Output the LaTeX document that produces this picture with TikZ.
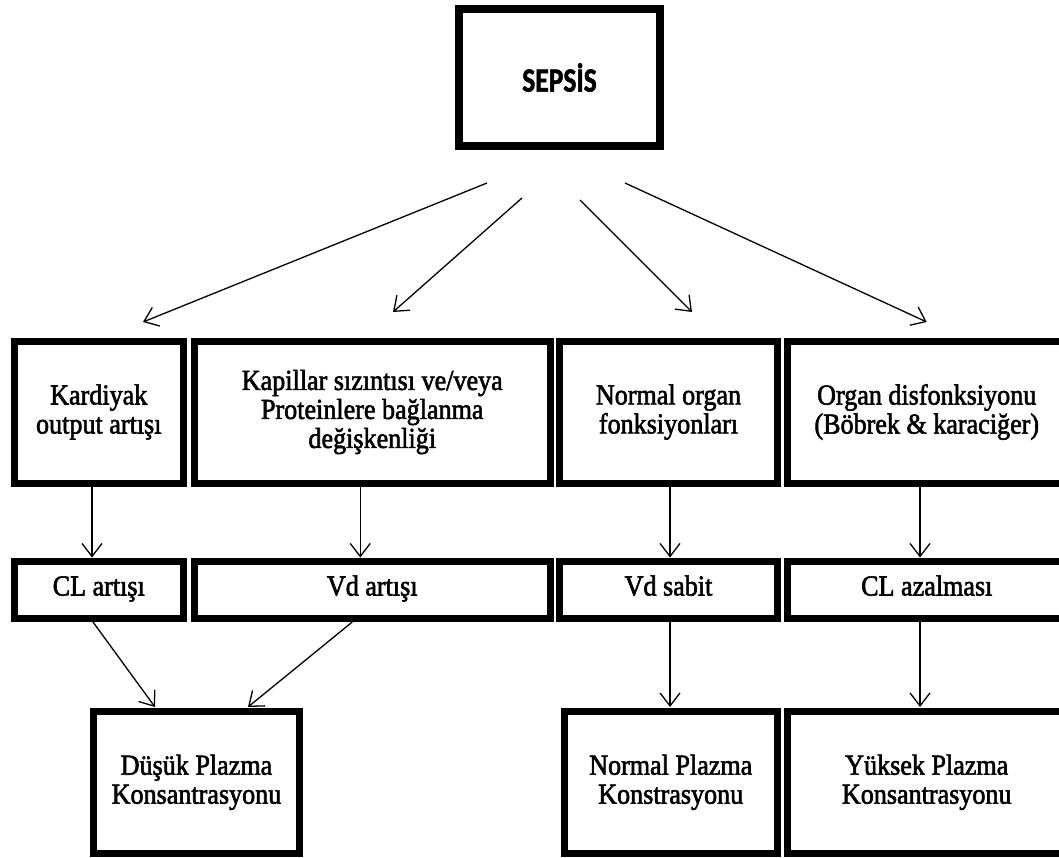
\documentclass[tikz,border=0pt]{standalone}
\usepackage{fontspec}
\setmainfont{Liberation Serif}[FakeStretch=0.9, FakeBold=2]
\newfontfamily\headfont{Carlito}[FakeStretch=0.81, FakeBold=1.5]
\usetikzlibrary{arrows.meta,calc}

\begin{document}
\begin{tikzpicture}[x=1pt, y=-1pt,
  every node/.style={rectangle, draw, line width=7pt, outer sep=0pt, inner sep=0pt, align=center, font=\fontsize{29}{29}\selectfont},
  oneline/.style={text height=19pt, text depth=7pt},
  flow/.style={line width=1.3pt, -{Straight Barb[length=13pt,width=20pt]}}]
  % \draw[help lines] (0,0) grid (1059,857);
  \useasboundingbox (0,0) rectangle (1059,857);
  \clip (0,0) rectangle (1059,857);

  \node (sepsis) at (559.5,77.5) [line width=8pt, minimum width=201pt, minimum height=137pt, font=\headfont\bfseries\fontsize{34}{34}\selectfont] {\raisebox{-2pt}{SEPSİS}};

  \node (cardiac) at (98.75,412) [minimum width=168.5pt, minimum height=142pt] {Kardiyak\\output artışı};
  \node (leak) at (372.25,412) [minimum width=355.5pt, minimum height=142pt] {Kapillar sızıntısı ve/veya\\Proteinlere bağlanma\\değişkenliği};
  \node (normorgan) at (668.5,412) [minimum width=218pt, minimum height=142pt] {Normal organ\\fonksiyonları};
  \node (dysfunction) at (926.75,412) [minimum width=278.5pt, minimum height=142pt] {Organ disfonksiyonu\\(Böbrek \& karaciğer)};

  \node (clup) at (98.75,589.5) [oneline, minimum width=168.5pt, minimum height=57pt] {CL artışı};
  \node (vdup) at (372.25,589.5) [oneline, minimum width=355.5pt, minimum height=57pt] {Vd artışı};
  \node (vdconst) at (668.5,589.5) [oneline, minimum width=218pt, minimum height=57pt] {Vd sabit};
  \node (cldown) at (926.75,589.5) [oneline, minimum width=278.5pt, minimum height=57pt] {CL azalması};

  \node (low) at (196.5,782.25) [minimum width=206pt, minimum height=141.5pt] {Düşük Plazma\\Konsantrasyonu};
  \node (normal) at (670.75,782.25) [minimum width=213.5pt, minimum height=141.5pt] {Normal Plazma\\Konstrasyonu};
  \node (high) at (926.75,782.25) [minimum width=278.5pt, minimum height=141.5pt] {Yüksek Plazma\\Konsantrasyonu};

  % sepsis fans out
  \draw[flow] ($(sepsis.south)+(-72.5,37)$) -- ($(cardiac.north)+(44.25,-19)$);
  \draw[flow] ($(sepsis.south)+(-37.5,52)$) -- ($(leak.north)+(20.75,-29)$);
  \draw[flow] ($(sepsis.south)+(20.5,54)$) -- ($(normorgan.north)+(23.5,-29)$);
  \draw[flow] ($(sepsis.south)+(65.5,37)$) -- ($(dysfunction.north)+(0,-19)$);

  \draw[flow] ($(cardiac.south)+(-6.75,0)$) -- ($(clup.north)+(-6.75,-3.5)$);
  \draw[flow] ($(leak.south)+(-12,0)$) -- ($(vdup.north)+(-12,-3.5)$);
  \draw[flow] ($(normorgan.south)+(1.5,0)$) -- ($(vdconst.north)+(1.5,-3.5)$);
  \draw[flow] ($(dysfunction.south)+(-6.75,0)$) -- ($(cldown.north)+(-6.75,-3.5)$);

  \draw[flow] ($(clup.south)+(-5.75,4)$) -- ($(low.north)+(-41.5,-4.5)$);
  \draw[flow] ($(vdup.south)+(-20,4)$) -- ($(low.north)+(51.5,-4.5)$);
  \draw[flow] ($(vdconst.south)+(1.5,4)$) -- ($(normal.north)+(-0.75,-4.5)$);
  \draw[flow] ($(cldown.south)+(-6.75,4)$) -- ($(high.north)+(-6.75,-4.5)$);
\end{tikzpicture}
\end{document}
